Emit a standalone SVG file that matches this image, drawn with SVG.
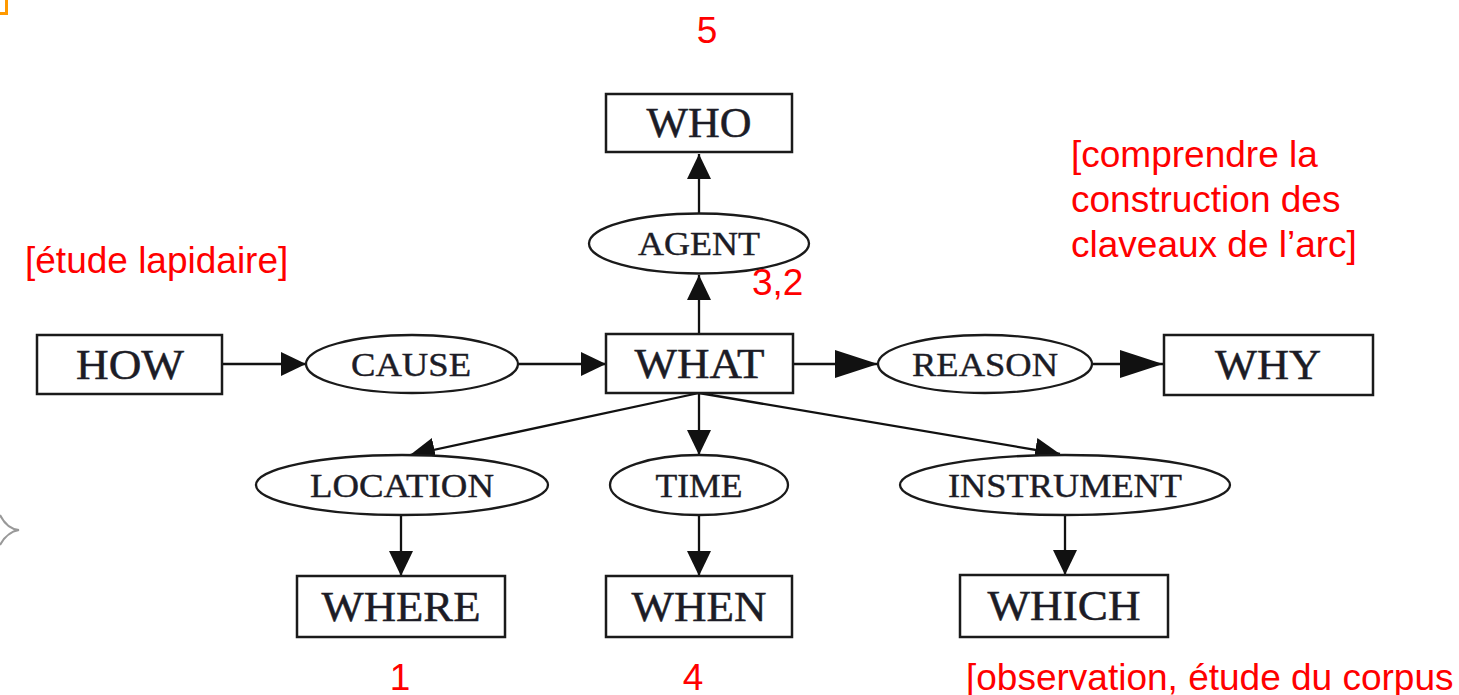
<svg xmlns="http://www.w3.org/2000/svg" width="1459" height="695" viewBox="0 0 1459 695">
<style>
  .box { fill: #fff; stroke: #1a1a1a; stroke-width: 2.5; }
  .ell { fill: #fff; stroke: #1a1a1a; stroke-width: 2.3; }
  .bl { font-family: "Liberation Serif", "Times New Roman", serif; font-size: 43px; fill: #1c1c26; stroke: #1c1c26; stroke-width: 0.5; text-anchor: middle; }
  .el { font-family: "Liberation Serif", "Times New Roman", serif; font-size: 33px; fill: #1c1c26; stroke: #1c1c26; stroke-width: 0.4; text-anchor: middle; }
  .red { font-family: "Liberation Sans", Arial, sans-serif; font-size: 37px; fill: #ff0000; }
  .con { stroke: #111; stroke-width: 2.3; fill: none; }
</style>
<defs>
  <marker id="ah" markerUnits="userSpaceOnUse" markerWidth="26" markerHeight="24" refX="25" refY="12" orient="auto">
    <path d="M0,0 L25,12 L0,24 z" fill="#111"/>
  </marker>
  <marker id="ahl" markerUnits="userSpaceOnUse" markerWidth="44" markerHeight="28" refX="43" refY="14" orient="auto">
    <path d="M0,0 L43,14 L0,28 z" fill="#111"/>
  </marker>
</defs>
<rect width="1459" height="695" fill="#fff"/>

<!-- decorative marks -->
<path d="M0,13.5 H6.5 V0" fill="none" stroke="#ff9900" stroke-width="3"/>
<path d="M0,515 Q7,529 19,530 Q7,532 0,545" fill="none" stroke="#999" stroke-width="2"/>

<g id="connectors">
  <line class="con" x1="699" y1="334" x2="699" y2="275" marker-end="url(#ah)"/>
  <line class="con" x1="699" y1="213" x2="699" y2="154" marker-end="url(#ah)"/>
  <line class="con" x1="222" y1="364" x2="306" y2="364" marker-end="url(#ah)"/>
  <line class="con" x1="518" y1="364" x2="606" y2="364" marker-end="url(#ah)"/>
  <line class="con" x1="793" y1="364" x2="878" y2="364" marker-end="url(#ahl)"/>
  <line class="con" x1="1092" y1="364" x2="1163" y2="364" marker-end="url(#ahl)"/>
  <line class="con" x1="699" y1="393" x2="699" y2="455" marker-end="url(#ah)"/>
  <line class="con" x1="699" y1="393" x2="410" y2="455" marker-end="url(#ah)"/>
  <line class="con" x1="699" y1="393" x2="1060" y2="454" marker-end="url(#ah)"/>
  <line class="con" x1="401" y1="515" x2="401" y2="576" marker-end="url(#ah)"/>
  <line class="con" x1="699" y1="515" x2="699" y2="576" marker-end="url(#ah)"/>
  <line class="con" x1="1065" y1="515" x2="1065" y2="575" marker-end="url(#ah)"/>
</g>

<g id="node-who">
  <rect class="box" x="606" y="94" width="186" height="58"/>
  <text class="bl" x="699" y="137" textLength="105" lengthAdjust="spacingAndGlyphs">WHO</text>
</g>
<g id="node-agent">
  <ellipse class="ell" cx="699" cy="243.5" rx="110" ry="30"/>
  <text class="el" x="699" y="255" textLength="122" lengthAdjust="spacingAndGlyphs">AGENT</text>
</g>
<g id="node-how">
  <rect class="box" x="37" y="335" width="185" height="59"/>
  <text class="bl" x="130" y="378.5" textLength="108" lengthAdjust="spacingAndGlyphs">HOW</text>
</g>
<g id="node-cause">
  <ellipse class="ell" cx="412" cy="364" rx="106" ry="29"/>
  <text class="el" x="411" y="375.5" textLength="120" lengthAdjust="spacingAndGlyphs">CAUSE</text>
</g>
<g id="node-what">
  <rect class="box" x="606" y="334" width="187" height="59"/>
  <text class="bl" x="699.5" y="377.5" textLength="130" lengthAdjust="spacingAndGlyphs">WHAT</text>
</g>
<g id="node-reason">
  <ellipse class="ell" cx="985" cy="364" rx="107" ry="29"/>
  <text class="el" x="985" y="375.5" textLength="146" lengthAdjust="spacingAndGlyphs">REASON</text>
</g>
<g id="node-why">
  <rect class="box" x="1164" y="335" width="209" height="60"/>
  <text class="bl" x="1268" y="379" textLength="106" lengthAdjust="spacingAndGlyphs">WHY</text>
</g>
<g id="node-location">
  <ellipse class="ell" cx="402" cy="485" rx="146" ry="30"/>
  <text class="el" x="402" y="496.5" textLength="184" lengthAdjust="spacingAndGlyphs">LOCATION</text>
</g>
<g id="node-time">
  <ellipse class="ell" cx="699" cy="485" rx="89" ry="30"/>
  <text class="el" x="699" y="496.5" textLength="87" lengthAdjust="spacingAndGlyphs">TIME</text>
</g>
<g id="node-instrument">
  <ellipse class="ell" cx="1065" cy="485" rx="165" ry="30"/>
  <text class="el" x="1065" y="496.5" textLength="234" lengthAdjust="spacingAndGlyphs">INSTRUMENT</text>
</g>
<g id="node-where">
  <rect class="box" x="297" y="576" width="208" height="61"/>
  <text class="bl" x="401" y="620.5" textLength="159" lengthAdjust="spacingAndGlyphs">WHERE</text>
</g>
<g id="node-when">
  <rect class="box" x="606" y="576" width="186" height="61"/>
  <text class="bl" x="699" y="620.5" textLength="135" lengthAdjust="spacingAndGlyphs">WHEN</text>
</g>
<g id="node-which">
  <rect class="box" x="960" y="575" width="208" height="62"/>
  <text class="bl" x="1064" y="620" textLength="153" lengthAdjust="spacingAndGlyphs">WHICH</text>
</g>

<g id="annotations">
  <text class="red" x="707" y="43" text-anchor="middle" font-size="36">5</text>
  <text class="red" x="752" y="295" font-size="35">3,2</text>
  <text class="red" x="25" y="273">[étude lapidaire]</text>
  <text class="red" x="1071" y="167">[comprendre la</text>
  <text class="red" x="1071" y="212">construction des</text>
  <text class="red" x="1071" y="257">claveaux de l’arc]</text>
  <text class="red" x="400" y="690" text-anchor="middle">1</text>
  <text class="red" x="693" y="690" text-anchor="middle">4</text>
  <text class="red" x="966" y="690">[observation, étude du corpus</text>
</g>
</svg>
